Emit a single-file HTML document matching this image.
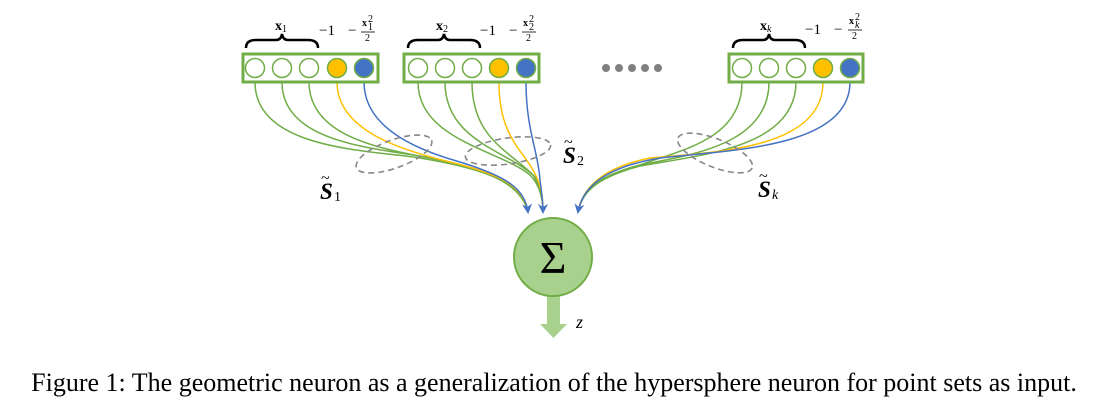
<!DOCTYPE html>
<html><head><style>
body{margin:0;background:#fff;width:1108px;height:418px;overflow:hidden}
svg{position:absolute;left:0;top:0}
.cap{position:absolute;left:0;top:368px;width:1108px;text-align:center;font:26px/30px "Liberation Serif",serif;color:#000;white-space:nowrap}
</style></head><body>
<svg width="1108" height="418" xmlns="http://www.w3.org/2000/svg">
<defs>
<marker id="ah" markerWidth="10" markerHeight="10" refX="8" refY="5" orient="auto" markerUnits="userSpaceOnUse"><path d="M0,0 L10,5 L0,10 L3,5Z" fill="#4472c4"/></marker>
</defs>
<g fill="none" stroke-width="1.5">
<path d="M255,82 C255,150 370,150 420,158 C480,168 520,180 528,212" stroke="#70ad47"/>
<path d="M282,82 C282,145 380,148 430,158 C490,170 520,182 528,212" stroke="#70ad47"/>
<path d="M309,82 C309,140 390,150 440,160 C495,172 522,184 528,212" stroke="#70ad47"/>
<path d="M337,82 C337,130 400,150 450,162 C500,174 524,186 528,212" stroke="#ffc000"/>
<path d="M364,82 C364,125 410,148 460,162 C505,176 525,188 528,212" stroke="#4472c4" marker-end="url(#ah)"/>
<path d="M418,82 C418,140 500,150 530,175 C540,185 543,200 543,212" stroke="#70ad47"/>
<path d="M445,82 C445,140 505,150 533,175 C541,187 543,200 543,212" stroke="#70ad47"/>
<path d="M472,82 C472,140 512,152 535,177 C542,188 543,200 543,212" stroke="#70ad47"/>
<path d="M499,82 C499,140 525,150 537,178 C542,190 543,200 543,212" stroke="#ffc000"/>
<path d="M526,82 C526,130 538,150 540,180 C542,195 543,205 543,212" stroke="#4472c4" marker-end="url(#ah)"/>
<path d="M742,82 C742,140 680,150 640,165 C600,175 582,190 578,212" stroke="#70ad47"/>
<path d="M769,82 C769,145 690,155 640,165 C600,176 582,190 578,212" stroke="#70ad47"/>
<path d="M796,82 C796,148 700,155 640,166 C600,177 582,190 578,212" stroke="#70ad47"/>
<path d="M823,82 C823,148 720,152 650,158 C600,168 582,190 578,212" stroke="#ffc000"/>
<path d="M850,82 C850,148 730,150 660,158 C600,168 582,190 578,212" stroke="#4472c4" marker-end="url(#ah)"/>
</g>
<g fill="none" stroke="#888" stroke-width="1.6" stroke-dasharray="6,4">
<ellipse cx="394" cy="154" rx="40" ry="14" transform="rotate(-20 394 154)"/>
<ellipse cx="508" cy="151" rx="43" ry="13" transform="rotate(-8 508 151)"/>
<ellipse cx="715" cy="153" rx="40" ry="14" transform="rotate(22 715 153)"/>
</g>
<g fill="#fff" stroke="#70ad47" stroke-width="3">
<rect x="243" y="54" width="135" height="28"/>
<rect x="404" y="54" width="135" height="28"/>
<rect x="729" y="54" width="134" height="28"/>
</g>
<g stroke="#70ad47" stroke-width="1.5">
<circle cx="255" cy="68" r="9.5" fill="#fff"/><circle cx="282" cy="68" r="9.5" fill="#fff"/><circle cx="309" cy="68" r="9.5" fill="#fff"/><circle cx="337" cy="68" r="9.5" fill="#ffc000"/><circle cx="364" cy="68" r="9.5" fill="#4472c4"/>
<circle cx="418" cy="68" r="9.5" fill="#fff"/><circle cx="445" cy="68" r="9.5" fill="#fff"/><circle cx="472" cy="68" r="9.5" fill="#fff"/><circle cx="499" cy="68" r="9.5" fill="#ffc000"/><circle cx="526" cy="68" r="9.5" fill="#4472c4"/>
<circle cx="742" cy="68" r="9.5" fill="#fff"/><circle cx="769" cy="68" r="9.5" fill="#fff"/><circle cx="796" cy="68" r="9.5" fill="#fff"/><circle cx="823" cy="68" r="9.5" fill="#ffc000"/><circle cx="850" cy="68" r="9.5" fill="#4472c4"/>
</g>
<g fill="#808080"><circle cx="606" cy="68" r="4"/><circle cx="619" cy="68" r="4"/><circle cx="632" cy="68" r="4"/><circle cx="645" cy="68" r="4"/><circle cx="658" cy="68" r="4"/></g>
<g fill="none" stroke="#000" stroke-width="2.5">
<path d="M246,48 Q246,40 256,40 L276,40 Q281,40 282,34 Q283,40 288,40 L308,40 Q318,40 318,48"/>
<path d="M408,48 Q408,40 418,40 L438,40 Q443,40 444,34 Q445,40 450,40 L470,40 Q480,40 480,48"/>
<path d="M733,48 Q733,40 743,40 L763,40 Q768,40 769,34 Q770,40 775,40 L795,40 Q805,40 805,48"/>
</g>
<g font-family="Liberation Serif,serif" fill="#000">
<text x="275" y="30" font-size="14" font-weight="bold">x<tspan font-size="10" font-weight="normal" dy="2">1</tspan></text>
<text x="436" y="30" font-size="14" font-weight="bold">x<tspan font-size="10" font-weight="normal" dy="2">2</tspan></text>
<text x="760" y="30" font-size="14" font-weight="bold">x<tspan font-size="10" font-style="italic" font-weight="normal" dy="2">k</tspan></text>
<text x="319" y="35" font-size="15">−1</text><text x="348" y="35" font-size="15">−</text>
<text x="480" y="35" font-size="15">−1</text><text x="509" y="35" font-size="15">−</text>
<text x="805" y="34" font-size="15">−1</text><text x="834" y="34" font-size="15">−</text>
<g font-size="10">
<text x="362" y="26" font-weight="bold">x</text><text x="368" y="22">2</text><text x="368" y="30">1</text><line x1="361" y1="32" x2="375" y2="32" stroke="#000" stroke-width="0.8"/><text x="365" y="41">2</text>
<text x="523" y="26" font-weight="bold">x</text><text x="529" y="22">2</text><text x="529" y="30">2</text><line x1="522" y1="32" x2="536" y2="32" stroke="#000" stroke-width="0.8"/><text x="526" y="41">2</text>
<text x="849" y="24" font-weight="bold">x</text><text x="855" y="20">2</text><text x="855" y="28" font-style="italic">k</text><line x1="848" y1="30" x2="862" y2="30" stroke="#000" stroke-width="0.8"/><text x="852" y="39">2</text>
</g>
<g font-size="23" font-weight="bold" font-style="italic">
<text x="320" y="199">S</text><text x="334" y="201" font-size="14" font-weight="normal" font-style="normal">1</text><text x="321" y="183" font-size="16" font-weight="normal" font-style="normal">~</text>
<text x="563" y="163">S</text><text x="577" y="165" font-size="14" font-weight="normal" font-style="normal">2</text><text x="564" y="147" font-size="16" font-weight="normal" font-style="normal">~</text>
<text x="758" y="197">S</text><text x="772" y="199" font-size="14" font-weight="normal">k</text><text x="759" y="181" font-size="16" font-weight="normal" font-style="normal">~</text>
</g>
</g>
<rect x="547" y="294" width="13" height="30" fill="#a9d18e"/>
<path d="M540,324 L567,324 L553.5,338Z" fill="#a9d18e"/>
<circle cx="553" cy="257" r="39" fill="#a9d18e" stroke="#70ad47" stroke-width="2"/>
<text x="553" y="273" text-anchor="middle" font-family="Liberation Serif,serif" font-size="46">Σ</text>
<text x="576" y="328" font-family="Liberation Serif,serif" font-size="18" font-style="italic">z</text>
</svg>
<div class="cap">Figure 1: The geometric neuron as a generalization of the hypersphere neuron for point sets as input.</div>
</body></html>
